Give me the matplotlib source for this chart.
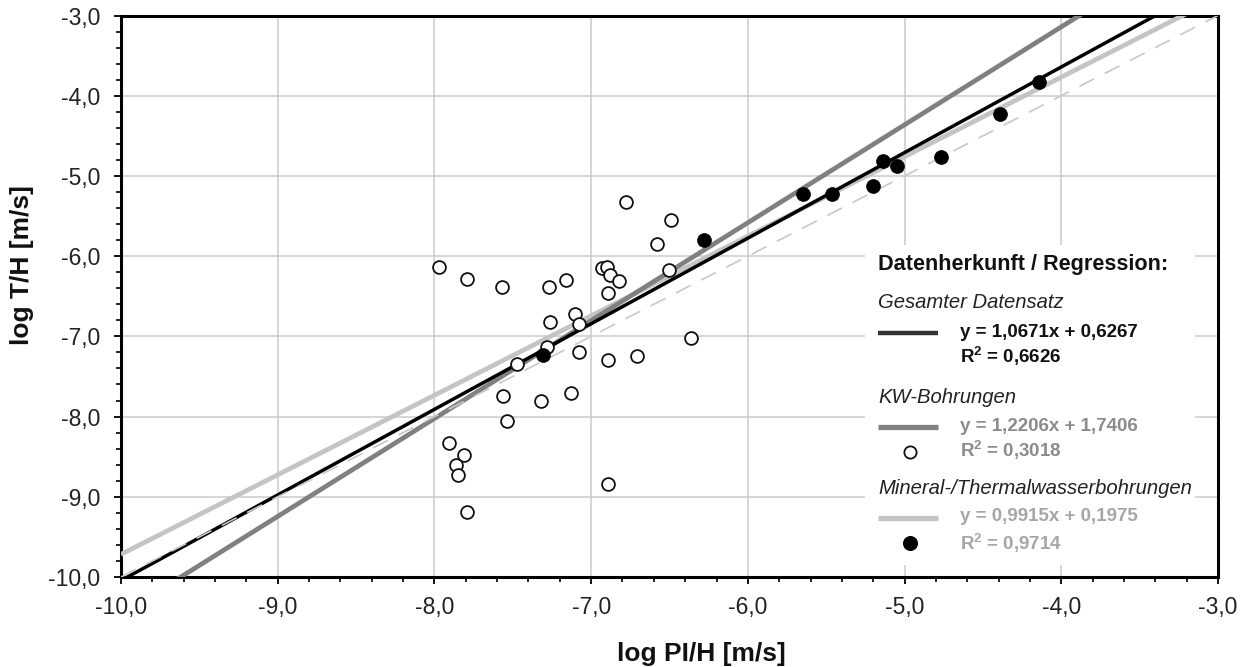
import matplotlib
matplotlib.use("Agg")
import matplotlib.pyplot as plt
from matplotlib.ticker import MultipleLocator, FuncFormatter
from matplotlib.lines import Line2D
from matplotlib.patches import Rectangle
import numpy as np

plt.rcParams['font.family'] = ['Liberation Sans', 'DejaVu Sans']
plt.rcParams['mathtext.fontset'] = 'custom'
plt.rcParams['mathtext.rm'] = 'Liberation Sans'
plt.rcParams['mathtext.bf'] = 'Liberation Sans:bold'
plt.rcParams['mathtext.it'] = 'Liberation Sans:italic'

# ---- data ----
kw_x = [-7.97, -7.79, -7.57, -7.27, -7.16, -6.78, -6.49, -6.58, -6.93, -6.90,
        -6.88, -6.82, -6.89, -6.50, -7.10, -7.26, -7.08, -6.36, -7.28, -7.08,
        -6.89, -6.71, -7.47, -7.56, -7.32, -7.13, -7.54, -7.91, -7.81, -7.86,
        -7.85, -6.89, -7.79]
kw_y = [-6.14, -6.28, -6.39, -6.38, -6.30, -5.33, -5.55, -5.85, -6.15, -6.14,
        -6.23, -6.31, -6.46, -6.17, -6.72, -6.82, -6.84, -7.02, -7.13, -7.19,
        -7.30, -7.25, -7.34, -7.74, -7.80, -7.70, -8.05, -8.33, -8.48, -8.60,
        -8.73, -8.84, -9.19]

mw_x = [-7.31, -6.28, -5.65, -5.46, -5.20, -5.14, -5.05, -4.77, -4.39, -4.14]
mw_y = [-7.23, -5.80, -5.23, -5.23, -5.12, -4.81, -4.88, -4.77, -4.23, -3.83]

# regression coefficients (slope, intercept)
reg_all = (1.0671, 0.6267)
reg_kw = (1.2206, 1.7406)
reg_mw = (0.9915, 0.1975)

eq_all = "y = 1,0671x + 0,6267"
r2_all = r"R$^{\mathbf{2}}$ = 0,6626"
eq_kw = "y = 1,2206x + 1,7406"
r2_kw = r"R$^{\mathbf{2}}$ = 0,3018"
eq_mw = "y = 0,9915x + 0,1975"
r2_mw = r"R$^{\mathbf{2}}$ = 0,9714"

W, H = 1243, 667
fig = plt.figure(figsize=(W / 100, H / 100), dpi=100)
ax = fig.add_axes([121 / W, 1 - 577 / H, (1218 - 121) / W, (577 - 15.5) / H])

ax.set_xlim(-10, -3)
ax.set_ylim(-10, -3)

xx = np.linspace(-10, -3, 200)
c_black = '#000000'
c_dark = '#808080'
c_light = '#c4c4c4'

ax.plot(xx, reg_mw[0] * xx + reg_mw[1], color=c_light, lw=3.4, zorder=3, solid_capstyle='butt')
ax.plot(xx, reg_kw[0] * xx + reg_kw[1], color=c_dark, lw=3.4, zorder=3.1, solid_capstyle='butt')
ax.plot(xx, reg_all[0] * xx + reg_all[1], color=c_black, lw=2.5, zorder=3.2, solid_capstyle='butt')
ax.plot(xx, xx, color='#c8c8c8', lw=1.2, ls=(0, (10, 7)), zorder=3.3)

ax.scatter(kw_x, kw_y, s=85, facecolor='white', edgecolor='#111111', linewidth=1.3, zorder=5)
ax.scatter(mw_x, mw_y, s=100, facecolor='black', edgecolor='black', linewidth=0.5, zorder=5)

# axes styling
ax.xaxis.set_major_locator(MultipleLocator(1))
ax.yaxis.set_major_locator(MultipleLocator(1))
ax.xaxis.set_minor_locator(MultipleLocator(0.2))
ax.yaxis.set_minor_locator(MultipleLocator(0.2))
fmt = FuncFormatter(lambda v, p: f"{v:.1f}".replace('.', ','))
ax.xaxis.set_major_formatter(fmt)
ax.yaxis.set_major_formatter(fmt)
ax.grid(True, which='major', color='#cccccc', lw=1.1, zorder=0)
ax.set_axisbelow(True)
for s in ax.spines.values():
    s.set_linewidth(2.2)
    s.set_color('black')
ax.tick_params(which='major', direction='out', length=5, width=1.3, labelsize=16.5,
               labelcolor='#222222')
ax.tick_params(which='minor', direction='out', length=3.5, width=1.2)
ax.tick_params(axis='x', pad=9)
ax.tick_params(axis='y', pad=10)

# axis labels
fig.text(701 / W, 1 - 660.7 / H, "log PI/H [m/s]", ha='center', va='baseline',
         fontsize=19, fontweight='bold', color='#111111')
fig.text(22.5 / W, 1 - 265 / H, "log T/H [m/s]", ha='center', va='center',
         rotation=90, fontsize=19, fontweight='bold', color='#111111')

# ---- legend (manual) ----
def fx(px):
    return px / W

def fy(py):
    return 1 - py / H

fig.add_artist(Rectangle((fx(865), fy(565)), (1195 - 865) / W, (565 - 245) / H,
                         transform=fig.transFigure, facecolor='white',
                         edgecolor='none', zorder=2))

tx0 = 878
tx1 = 960
fig.text(fx(tx0), fy(270), "Datenherkunft / Regression:", fontsize=15.6,
         fontweight='bold', color='#111111', va='baseline', zorder=3)

fig.text(fx(tx0), fy(308.3), "Gesamter Datensatz", fontsize=14.6, style='italic',
         color='#222222', va='baseline', zorder=3)
fig.add_artist(Line2D([fx(878), fx(938)], [fy(332.7), fy(332.7)], transform=fig.transFigure,
                      color='#333333', lw=3.2, solid_capstyle='butt', zorder=3))
fig.text(fx(tx1), fy(336.7), eq_all, fontsize=13.5, fontweight='bold',
         color='#111111', va='baseline', zorder=3)
fig.text(fx(tx1), fy(363.3), r2_all, fontsize=13.5, fontweight='bold',
         color='#111111', va='baseline', zorder=3)

fig.text(fx(tx0), fy(402.7), "KW-Bohrungen", fontsize=14.6, style='italic',
         color='#222222', va='baseline', zorder=3)
fig.add_artist(Line2D([fx(878), fx(938)], [fy(427), fy(427)], transform=fig.transFigure,
                      color=c_dark, lw=3.8, solid_capstyle='butt', zorder=3))
fig.add_artist(Line2D([fx(910)], [fy(451.7)], transform=fig.transFigure, marker='o',
                      markersize=8.8, markerfacecolor='white', markeredgecolor='#111111',
                      markeredgewidth=1.3, ls='none', zorder=3))
fig.text(fx(tx1), fy(430.7), eq_kw, fontsize=13.5, fontweight='bold',
         color='#8c8c8c', va='baseline', zorder=3)
fig.text(fx(tx1), fy(457.3), r2_kw, fontsize=13.5, fontweight='bold',
         color='#8c8c8c', va='baseline', zorder=3)

fig.text(fx(tx0), fy(494), "Mineral-/Thermalwasserbohrungen", fontsize=14.6,
         style='italic', color='#222222', va='baseline', zorder=3)
fig.add_artist(Line2D([fx(878), fx(938)], [fy(517.7), fy(517.7)], transform=fig.transFigure,
                      color=c_light, lw=3.8, solid_capstyle='butt', zorder=3))
fig.add_artist(Line2D([fx(910)], [fy(543.3)], transform=fig.transFigure, marker='o',
                      markersize=9.8, markerfacecolor='black', markeredgecolor='black',
                      ls='none', zorder=3))
fig.text(fx(tx1), fy(521), eq_mw, fontsize=13.5, fontweight='bold',
         color='#a6a6a6', va='baseline', zorder=3)
fig.text(fx(tx1), fy(550), r2_mw, fontsize=13.5, fontweight='bold',
         color='#a6a6a6', va='baseline', zorder=3)

fig.savefig("out.png", dpi=100)
